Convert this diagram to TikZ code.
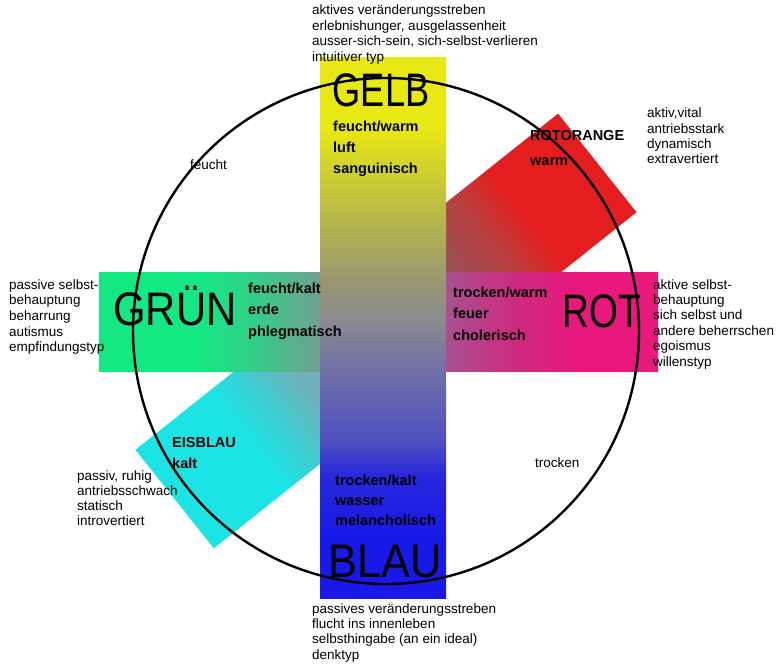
\documentclass[tikz,border=0pt]{standalone}
\usepackage{fontspec}
\setmainfont{Liberation Sans}
\definecolor{cyel}{HTML}{E8E814}
\definecolor{cblue}{HTML}{1818E8}
\definecolor{cgreen}{HTML}{14E882}
\definecolor{cpink}{HTML}{E8187C}
\definecolor{cred}{HTML}{E41E1E}
\definecolor{ccyan}{HTML}{1CE4E4}
\definecolor{vbA}{HTML}{2828DC}
\definecolor{vbB}{HTML}{5050C0}
\definecolor{vbC}{HTML}{7070A8}
\definecolor{vbD}{HTML}{8A8A90}
\definecolor{vbE}{HTML}{989870}
\definecolor{vbF}{HTML}{C0C040}
\definecolor{hgA}{HTML}{30D088}
\definecolor{hgB}{HTML}{70A090}
\definecolor{hpA}{HTML}{A85090}
\definecolor{hpB}{HTML}{D02880}
\definecolor{rgA}{HTML}{985058}
\definecolor{rgB}{HTML}{B84040}
\definecolor{cgA}{HTML}{70B0B8}
\definecolor{cgB}{HTML}{40CCD0}
\pgfdeclareverticalshading{vbar}{100bp}{color(0bp)=(cblue); color(30.4bp)=(cblue); color(36.4bp)=(vbA); color(39.6bp)=(vbB); color(46.1bp)=(vbC); color(50.7bp)=(vbD); color(54.4bp)=(vbE); color(61.9bp)=(vbF); color(68.5bp)=(cyel); color(100bp)=(cyel)}
\pgfdeclarehorizontalshading{hbar}{100bp}{color(0bp)=(cgreen); color(34bp)=(cgreen); color(38.5bp)=(hgA); color(44.8bp)=(hgB); color(56bp)=(hpA); color(62.7bp)=(hpB); color(68bp)=(cpink); color(100bp)=(cpink)}
\pgfdeclarehorizontalshading{rbar}{100bp}{color(0bp)=(rgA); color(40.6bp)=(rgA); color(50.5bp)=(rgB); color(58.5bp)=(cred); color(100bp)=(cred)}
\pgfdeclarehorizontalshading{cbar}{100bp}{color(0bp)=(cgA); color(42.7bp)=(cgA); color(50bp)=(cgB); color(57.5bp)=(ccyan); color(100bp)=(ccyan)}
\begin{document}
\begin{tikzpicture}[x=1pt,y=-1pt,
  small/.style={anchor=base west, inner sep=0pt, font=\fontsize{13.5}{15}\selectfont},
  barlbl/.style={anchor=base west, inner sep=0pt, font=\fontsize{14.5}{16}\selectfont\bfseries},
  biglbl/.style={anchor=base, inner sep=0pt, font=\fontsize{47}{50}\selectfont}]
\useasboundingbox (0,0) rectangle (778,671);
\fill[white] (0,0) rectangle (778,671);
\coordinate (c) at (386,331);
% diagonal bars
\begin{scope}[transform canvas={shift={(386,331)},rotate=38.5}]
  \shade[shading=rbar] (0,-63) rectangle (270,63);
\end{scope}
\begin{scope}[transform canvas={shift={(386,331)},rotate=218.5}]
  \shade[shading=cbar] (0,-63) rectangle (270,63);
\end{scope}
% cross
\shade[shading=hbar] (99,272) rectangle (658,371);
\shade[shading=vbar] (320,58) rectangle (446,598);
% circle
\draw[line width=2.4pt] (c) circle[radius=253];
% big labels
\node[biglbl] (gelb) at (381,107) {\scalebox{0.77}[1]{GELB}};
\node[biglbl] (gruen) at (175,325) {\scalebox{0.89}[1]{GRÜN}};
\node[biglbl] (rot) at (602,327) {\scalebox{0.79}[1]{ROT}};
\node[biglbl] (blau) at (385,577) {\scalebox{0.92}[1]{BLAU}};
% top text
\foreach \t [count=\i] in {aktives veränderungsstreben, {erlebnishunger, ausgelassenheit}, {ausser-sich-sein, sich-selbst-verlieren}, intuitiver typ}
  \node[small] (top\i) at (312,{15+15.5*(\i-1)}) {\t};
% gelb inner
\foreach \t [count=\i] in {feucht/warm, luft, sanguinisch}
  \node[barlbl] (ge\i) at (333,{132+21*(\i-1)}) {\t};
% rotorange
\node[barlbl] (ro1) at (530,141) {ROTORANGE};
\node[barlbl] (ro2) at (530,166) {warm};
\foreach \t [count=\i] in {{aktiv,vital}, antriebsstark, dynamisch, extravertiert}
  \node[small] (rt\i) at (647,{118+15.3*(\i-1)}) {\t};
\node[small] (feucht) at (190,170) {feucht};
% left
\foreach \t [count=\i] in {passive selbst-, behauptung, beharrung, autismus, empfindungstyp}
  \node[small] (lf\i) at (9,{289+15.7*(\i-1)}) {\t};
\foreach \t [count=\i] in {feucht/kalt, erde, phlegmatisch}
  \node[barlbl] (gr\i) at (248,{293+21.5*(\i-1)}) {\t};
\foreach \t [count=\i] in {trocken/warm, feuer, cholerisch}
  \node[barlbl] (rw\i) at (453,{297+21.5*(\i-1)}) {\t};
\foreach \t [count=\i] in {aktive selbst-, behauptung, sich selbst und, andere beherrschen, egoismus, willenstyp}
  \node[small] (rf\i) at (653,{289+15.4*(\i-1)}) {\t};
% eisblau
\node[barlbl] (eb1) at (172,447) {EISBLAU};
\node[barlbl] (eb2) at (172,468) {kalt};
\foreach \t [count=\i] in {{passiv, ruhig}, antriebsschwach, statisch, introvertiert}
  \node[small] (ll\i) at (77,{480+15*(\i-1)}) {\t};
\node[small] (trocken) at (535,467) {trocken};
% blau inner
\foreach \t [count=\i] in {trocken/kalt, wasser, melancholisch}
  \node[barlbl] (bl\i) at (335,{485+20*(\i-1)}) {\t};
% bottom
\foreach \t [count=\i] in {passives veränderungsstreben, flucht ins innenleben, selbsthingabe (an ein ideal), denktyp}
  \node[small] (bt\i) at (312,{613+15.4*(\i-1)}) {\t};
\end{tikzpicture}
\end{document}
